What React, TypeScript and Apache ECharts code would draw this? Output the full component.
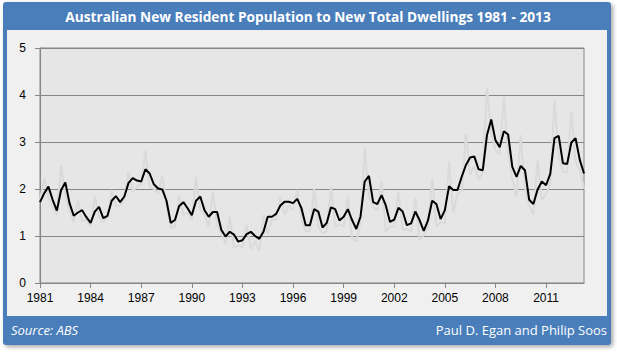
import React, { useEffect, useRef } from "react";
import * as echarts from "echarts";

const startYear = 1981;
const yTicks = [0, 1, 2, 3, 4, 5];

// Smoothed series (black), quarterly from 1981 Q1
const smoothed = [
  1.72, 1.91, 2.05, 1.77, 1.54, 1.98, 2.14, 1.70, 1.43, 1.50,
  1.55, 1.40, 1.28, 1.52, 1.62, 1.38, 1.43, 1.75, 1.85, 1.72,
  1.84, 2.13, 2.23, 2.18, 2.16, 2.42, 2.33, 2.10, 2.01, 1.99,
  1.75, 1.28, 1.34, 1.64, 1.72, 1.59, 1.44, 1.75, 1.84, 1.55,
  1.41, 1.51, 1.51, 1.13, 0.99, 1.09, 1.03, 0.88, 0.91, 1.04,
  1.09, 1.00, 0.94, 1.09, 1.41, 1.41, 1.47, 1.65, 1.73, 1.73,
  1.70, 1.79, 1.59, 1.23, 1.23, 1.57, 1.52, 1.18, 1.28, 1.61,
  1.57, 1.33, 1.41, 1.57, 1.34, 1.15, 1.41, 2.16, 2.28, 1.72,
  1.68, 1.87, 1.65, 1.30, 1.35, 1.60, 1.52, 1.23, 1.27, 1.52,
  1.34, 1.11, 1.33, 1.75, 1.68, 1.36, 1.55, 2.06, 1.98, 1.98,
  2.26, 2.51, 2.67, 2.69, 2.42, 2.40, 3.15, 3.48, 3.04, 2.89,
  3.23, 3.16, 2.47, 2.26, 2.49, 2.40, 1.77, 1.68, 1.99, 2.16,
  2.08, 2.32, 3.08, 3.13, 2.55, 2.53, 2.99, 3.08, 2.62, 2.33,
];

// Raw quarterly series (light grey)
const raw = [
  1.77, 2.23, 1.80, 1.62, 1.45, 2.50, 1.85, 1.55, 1.30, 1.75,
  1.32, 1.35, 1.20, 1.84, 1.40, 1.30, 1.40, 1.98, 1.62, 1.65,
  1.80, 2.37, 1.95, 2.05, 2.10, 2.81, 2.05, 2.00, 1.90, 2.28,
  1.65, 1.18, 1.20, 1.87, 1.45, 1.50, 1.35, 2.26, 1.55, 1.45,
  1.20, 1.94, 1.25, 1.05, 0.82, 1.41, 0.74, 0.80, 0.75, 1.23,
  0.72, 0.90, 0.68, 1.45, 1.05, 1.35, 1.35, 1.84, 1.45, 1.65,
  1.55, 1.98, 1.35, 1.10, 1.10, 2.01, 1.20, 1.05, 1.10, 2.04,
  1.20, 1.25, 1.20, 1.84, 0.95, 0.88, 1.30, 2.87, 1.85, 1.62,
  1.55, 2.16, 1.09, 1.20, 1.20, 1.94, 1.13, 1.15, 1.10, 1.80,
  0.91, 1.02, 1.20, 2.23, 1.20, 1.30, 1.25, 2.58, 1.50, 1.90,
  1.95, 3.18, 2.30, 2.50, 2.20, 2.35, 4.16, 3.20, 2.83, 2.75,
  3.96, 2.80, 2.20, 1.84, 3.15, 2.00, 1.66, 1.45, 2.62, 1.77,
  1.90, 2.10, 3.89, 2.70, 2.37, 2.35, 3.65, 2.58, 2.40, 2.01,
];

const quarters = smoothed.map((_, i) => `${startYear + Math.floor(i / 4)} Q${(i % 4) + 1}`);

const BLUE = "#4A7EBB";

export default function App() {
  const ref = useRef<HTMLDivElement>(null);
  useEffect(() => {
    if (!ref.current) return;
    const chart = echarts.init(ref.current, null, { renderer: "svg" });
    const showYear = (idx: number) => idx % 12 === 0;
    chart.setOption({
      animation: false,
      backgroundColor: "#ffffff",
      graphic: [
        {
          type: "rect",
          z: -10,
          silent: true,
          shape: { x: 3, y: 2, width: 608, height: 343, r: 3 },
          style: {
            fill: BLUE,
            shadowBlur: 4,
            shadowOffsetX: 2,
            shadowOffsetY: 2,
            shadowColor: "rgba(0,0,0,0.35)",
          },
        },
        {
          type: "rect",
          z: -9,
          silent: true,
          shape: { x: 7, y: 30, width: 600, height: 286 },
          style: { fill: "#F0F0F0" },
        },
        {
          type: "text",
          z: 10,
          x: 308,
          y: 16,
          style: {
            text: "Australian New Resident Population to New Total Dwellings 1981 - 2013",
            fill: "#ffffff",
            font: "bold 13.7px 'Open Sans', 'Noto Sans', sans-serif",
            align: "center",
            verticalAlign: "middle",
          },
        },
        {
          type: "text",
          z: 10,
          x: 11,
          y: 330,
          style: {
            text: "Source: ABS",
            fill: "#ffffff",
            font: "italic 13px 'Open Sans', 'Noto Sans', sans-serif",
            align: "left",
            verticalAlign: "middle",
          },
        },
        {
          type: "text",
          z: 10,
          x: 607,
          y: 330,
          style: {
            text: "Paul D. Egan and Philip Soos",
            fill: "#ffffff",
            font: "13px 'Open Sans', 'Noto Sans', sans-serif",
            align: "right",
            verticalAlign: "middle",
          },
        },
      ],
      grid: {
        left: 40,
        right: 33,
        top: 48,
        bottom: 69,
        show: true,
        backgroundColor: "#E6E6E6",
        borderColor: "#868686",
        borderWidth: 1,
      },
      xAxis: {
        type: "category",
        data: quarters,
        boundaryGap: false,
        axisLine: { show: true, lineStyle: { color: "#868686", width: 1 } },
        axisTick: {
          show: true,
          interval: (idx: number) => showYear(idx),
          length: 5,
          lineStyle: { color: "#868686" },
        },
        axisLabel: {
          interval: (idx: number) => showYear(idx),
          formatter: (v: string) => v.slice(0, 4),
          color: "#000000",
          fontSize: 12,
          fontFamily: "'Liberation Sans', Arial, sans-serif",
          margin: 9,
        },
        splitLine: { show: false },
      },
      yAxis: {
        type: "value",
        min: 0,
        max: 5,
        interval: 1,
        data: yTicks,
        axisLine: { show: true, lineStyle: { color: "#868686", width: 1 } },
        axisTick: { show: true, length: 5, lineStyle: { color: "#868686" } },
        axisLabel: {
          color: "#000000",
          fontSize: 12,
          fontFamily: "'Liberation Sans', Arial, sans-serif",
          margin: 14,
        },
        splitLine: { show: true, lineStyle: { color: "#868686", width: 1 } },
      },
      series: [
        {
          type: "line",
          name: "Raw",
          data: raw,
          showSymbol: false,
          symbol: "none",
          lineStyle: { color: "#DADADA", width: 2 },
          z: 2,
        },
        {
          type: "line",
          name: "Smoothed",
          data: smoothed,
          showSymbol: false,
          symbol: "none",
          lineStyle: { color: "#000000", width: 2 },
          z: 3,
        },
      ],
    });
    return () => chart.dispose();
  }, []);
  return (
    <div
      ref={ref}
      style={{ position: "fixed", left: 0, top: 0, width: 617, height: 352 }}
    />
  );
}
